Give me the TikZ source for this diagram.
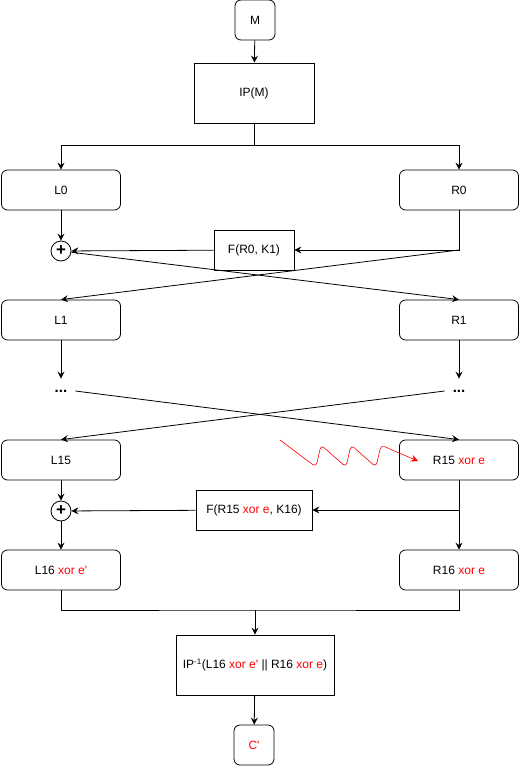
\documentclass[tikz,border=0pt]{standalone}
\usepackage{fontspec}
\setmainfont{Liberation Sans}
\usetikzlibrary{arrows.meta}

\newcommand{\xe}{\textcolor{red}{xor e}}

\begin{document}
\begin{tikzpicture}[x=1pt,y=-1pt,line width=0.8pt,
    every node/.style={font=\fontsize{12}{14}\selectfont},
    caja/.style={draw, rounded corners=6pt, minimum width=119pt, minimum height=40pt, inner sep=0pt},
    rect/.style={draw, minimum height=40pt, inner sep=0pt},
    suma/.style={draw, circle, minimum size=20pt, inner sep=0pt, font=\fontsize{17}{17}\selectfont\bfseries},
    puntos/.style={minimum width=28pt, minimum height=24pt, inner sep=0pt, font=\fontsize{15}{15}\selectfont\bfseries},
    flecha/.style={-{Stealth[length=7pt, width=7pt, inset=2.5pt]}}]
                \useasboundingbox (0,0) rectangle (520,766);

                % Entrada y permutacion inicial
                \node[caja, minimum width=40pt] (M) at (255,20) {M};
                \node[rect, minimum width=120pt, minimum height=60pt] (IP) at (254,93) {IP(M)};

                % Ronda 1
                \node[caja] (L0) at (61,190) {L0};
                \node[caja] (R0) at (459,190) {R0};
                \node[suma] (X1) at (61,251) {\raisebox{0.5pt}{+}};
                \node[rect, minimum width=80pt] (F1) at (254,250) {F(R0, K1)};
                \node[caja] (L1) at (61,320) {L1};
                \node[caja] (R1) at (459,320) {R1};

                % Rondas intermedias
                \node[puntos] (DL) at (61,391) {...};
                \node[puntos] (DR) at (459,391) {...};

                % Ronda 16
                \node[caja] (L15) at (61,460) {L15};
                \node[caja] (R15) at (459,460) {R15 \xe};
                \node[suma] (X2) at (61,511) {\raisebox{0.5pt}{+}};
                \node[rect, minimum width=116pt] (F2) at (254,510) {F(R15 \xe, K16)};
                \node[caja] (L16) at (61,570) {L16 \textcolor{red}{xor e\textquotesingle}};
                \node[caja] (R16) at (459,570) {R16 \xe};

                % Permutacion final y salida
                \node[rect, minimum width=158pt, minimum height=60pt] (IPi) at (255,665)
                    {IP\textsuperscript{-1}(L16 \textcolor{red}{xor e\textquotesingle} || R16 \xe)};
                \node[caja, minimum width=40pt] (C) at (254,745) {\textcolor{red}{C\textquotesingle}};

                % Conexiones
                \draw[flecha] (M) -- (IP);
                \draw (IP.south) -- ++(0,22) coordinate (c1);
                \draw[flecha] (c1) -| (L0);
                \draw[flecha] (c1) -| (R0);

                \draw[flecha] (L0) -- (X1);
                \draw[flecha] (R0.south) |- (F1.east);
                \draw[flecha] (F1) -- (X1);
                \coordinate (k1) at (R0.south |- F1.east);
                \draw[flecha] (k1) -- (L1.north);
                \draw[flecha] (X1) -- (R1.north);

                \draw[flecha] (L1) -- (DL);
                \draw[flecha] (R1) -- (DR);
                \draw[flecha] (DL.east) -- (R15.north);
                \draw[flecha] (DR.west) -- (L15.north);

                \draw[flecha] (L15) -- (X2);
                \draw[flecha] (X2) -- (L16);
                \draw[flecha] (R15) -- (R16);
                \coordinate (k2) at (R15.south |- F2.east);
                \draw[flecha] (k2) -- (F2.east);
                \draw[flecha] (F2) -- (X2);

                \coordinate (c2) at (IPi.north |- 0,610);
                \draw (L16.south) |- (c2) -| (R16.south);
                \draw[flecha] (c2) -- (IPi);
                \draw[flecha] (IPi) -- (C);

                % Error inyectado
                \coordinate (e1) at (280,440);
                \coordinate (e2) at (418,461);
                \draw[red, line width=0.6pt, rounded corners=4pt, flecha] (e1) -- (316,467) -- (321,445)
                    -- (346,467) -- (351,445) -- (376,467) -- (381,445) -- (392,450) -- (e2);
\end{tikzpicture}
\end{document}
